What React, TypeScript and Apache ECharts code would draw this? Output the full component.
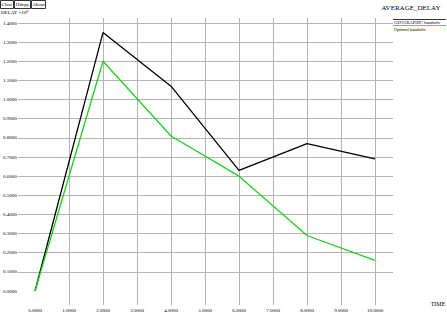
import React, { useEffect, useRef } from "react";
import * as echarts from "echarts";

const timeValues = [0, 2, 4, 6, 8, 10];
const geographicDelay = [0, 1.35, 1.07, 0.63, 0.77, 0.69];
const optimalDelay = [0, 1.2, 0.81, 0.6, 0.29, 0.16];
const seriesNames = ["GEOGRAPHIC handoffs", "Optimal handoffs"];
const seriesColors = ["#000000", "#22cc22"];
const buttonLabels = ["Close", "Hdcpy", "About"];

const FONT = "'Liberation Serif', 'DejaVu Serif', serif";
const GRID = "#b4b4b4";

export default function App() {
  const ref = useRef<HTMLDivElement>(null);
  useEffect(() => {
    if (!ref.current) return;
    const chart = echarts.init(ref.current, undefined, { renderer: "svg" });
    const hColors = Array.from({ length: 15 }, (_, i) => (i === 0 ? "transparent" : GRID));
    const vColors = Array.from({ length: 11 }, (_, i) => (i === 0 ? "transparent" : GRID));
    const buttonX = [0, 14, 31];
    const buttonW = [13, 16, 14];
    chart.setOption({
      animation: false,
      backgroundColor: "#ffffff",
      textStyle: { fontFamily: FONT },
      grid: [
        { left: 16, right: 54, top: 23, bottom: 24 },
        { left: 35, right: 72, top: 18, bottom: 10 },
        { left: 35, right: 72, top: 23, bottom: 24 },
      ],
      xAxis: [
        { gridIndex: 0, type: "value", min: 0, max: 1, show: false },
        {
          gridIndex: 1,
          type: "value",
          min: 0,
          max: 10,
          interval: 1,
          axisLine: { show: false },
          axisTick: { show: false },
          splitLine: { show: true, lineStyle: { color: vColors, width: 1 } },
          axisLabel: {
            formatter: (v: number) => v.toFixed(4),
            fontSize: 5,
            color: "#000",
            margin: 3,
            fontFamily: FONT,
          },
        },
        { gridIndex: 2, type: "value", min: 0, max: 10, show: false },
      ],
      yAxis: [
        {
          gridIndex: 0,
          type: "value",
          min: 0,
          max: 1.4,
          interval: 0.1,
          axisLine: { show: false },
          axisTick: { show: false },
          splitLine: { show: true, lineStyle: { color: hColors, width: 1 } },
          axisLabel: {
            formatter: (v: number) => v.toFixed(4),
            fontSize: 5,
            color: "#000",
            margin: 1,
            fontFamily: FONT,
          },
        },
        { gridIndex: 1, type: "value", min: 0, max: 1, show: false },
        { gridIndex: 2, type: "value", min: 0, max: 1.4, show: false },
      ],
      series: [
        {
          name: seriesNames[0],
          type: "line",
          xAxisIndex: 2,
          yAxisIndex: 2,
          data: timeValues.map((t, i) => [t, geographicDelay[i]]),
          showSymbol: false,
          lineStyle: { color: seriesColors[0], width: 1.3 },
          itemStyle: { color: seriesColors[0] },
        },
        {
          name: seriesNames[1],
          type: "line",
          xAxisIndex: 2,
          yAxisIndex: 2,
          data: timeValues.map((t, i) => [t, optimalDelay[i]]),
          showSymbol: false,
          lineStyle: { color: seriesColors[1], width: 1.3 },
          itemStyle: { color: seriesColors[1] },
        },
      ],
      graphic: [
        ...buttonLabels.map((label, i) => ({
          type: "group",
          children: [
            {
              type: "rect",
              shape: { x: buttonX[i] + 0.5, y: 0.5, width: buttonW[i], height: 8 },
              style: { fill: "#fff", stroke: "#000", lineWidth: 0.8 },
            },
            {
              type: "text",
              x: buttonX[i] + 0.5 + buttonW[i] / 2,
              y: 4.5,
              style: {
                text: label,
                font: `5px ${FONT}`,
                fill: "#000",
                textAlign: "center",
                textVerticalAlign: "middle",
              },
            },
          ],
        })),
        {
          type: "text",
          x: 1,
          y: 12,
          style: {
            text: "DELAY ×10⁰",
            font: `5px ${FONT}`,
            fill: "#000",
            textVerticalAlign: "middle",
          },
        },
        {
          type: "text",
          x: 411,
          y: 8,
          style: {
            text: "AVERAGE_DELAY",
            font: `7px ${FONT}`,
            fill: "#000",
            textAlign: "center",
            textVerticalAlign: "middle",
          },
        },
        {
          type: "text",
          x: 438,
          y: 304,
          style: {
            text: "TIME",
            font: `6px ${FONT}`,
            fill: "#000",
            textAlign: "center",
            textVerticalAlign: "middle",
          },
        },
        {
          type: "line",
          shape: { x1: 393, y1: 19.5, x2: 446, y2: 19.5 },
          style: { stroke: seriesColors[0], lineWidth: 0.8 },
        },
        {
          type: "text",
          x: 394,
          y: 22.5,
          style: {
            text: seriesNames[0],
            font: `4.5px ${FONT}`,
            fill: "#000",
            textVerticalAlign: "middle",
          },
        },
        {
          type: "line",
          shape: { x1: 393, y1: 25.5, x2: 446, y2: 25.5 },
          style: { stroke: seriesColors[1], lineWidth: 0.8 },
        },
        {
          type: "text",
          x: 394,
          y: 29,
          style: {
            text: seriesNames[1],
            font: `4.5px ${FONT}`,
            fill: "#000",
            textVerticalAlign: "middle",
          },
        },
      ],
    });
    return () => chart.dispose();
  }, []);
  return (
    <div
      ref={ref}
      style={{ position: "fixed", left: 0, top: 0, width: 447, height: 315 }}
    />
  );
}
